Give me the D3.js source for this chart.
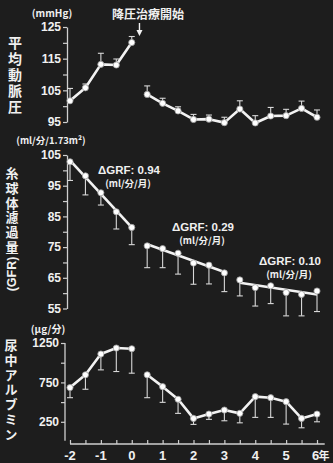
<!DOCTYPE html>
<html>
<head>
<meta charset="utf-8">
<script src="https://cdn.jsdelivr.net/npm/d3@7"></script>
<style>
  html, body { margin: 0; padding: 0; background: #1d1d1d; }
  svg { display: block; }
  text { fill: #f0f0f0; font-family: "Liberation Sans", Arial, "Noto Sans CJK JP", sans-serif; font-weight: bold; }
  .jp { font-family: "Noto Sans CJK JP", sans-serif; }
</style>
</head>
<body>
<svg id="chart" width="333" height="463"></svg>
<script>
// ---- data ----
const yearsPre = [-2, -1.5, -1, -0.5, 0];
const yearsPost = [0.5, 1, 1.5, 2, 2.5, 3, 3.5, 4, 4.5, 5, 5.5, 6];
const xTickLabels = [-2, -1, 0, 1, 2, 3, 4, 5, 6];

// mean arterial pressure (mmHg), error bar drawn upward
const mapPre = [101.7, 105.8, 113.2, 113.0, 120.1];
const mapPreErr = [3.9, 1.2, 3.5, 1.9, 1.9];
const mapPost = [103.7, 100.9, 98.5, 95.8, 95.9, 94.8, 99.1, 94.7, 96.9, 97.0, 99.3, 96.5];
const mapPostErr = [2.7, 1.6, 1.3, 1.6, 1.3, 1.7, 2.6, 2.3, 2.7, 2.0, 2.3, 2.3];
const mapTicks = [95, 105, 115, 125];

// GFR (ml/min/1.73m2), error bar drawn downward
const gfrPre = [102.8, 98.2, 92.7, 86.5, 81.4];
const gfrPreErr = [6.1, 6.2, 4.0, 5.6, 5.6];
const gfrPost = [75.4, 74.5, 73.0, 69.8, 69.1, 66.6, 64.3, 61.8, 62.4, 60.2, 59.6, 60.7];
const gfrPostErr = [7.1, 6.2, 6.8, 6.9, 6.1, 6.1, 5.2, 6.0, 5.8, 7.6, 7.0, 6.7];
const gfrTicks = [55, 65, 75, 85, 95, 105];
const gfrSlopes = ["0.94", "0.29", "0.10"];

// urinary albumin (ug/min), error bar drawn downward
const albPre = [684, 846, 1110, 1186, 1177];
const albPreErr = [128, 183, 201, 298, 310];
const albPost = [846, 696, 536, 293, 348, 399, 357, 569, 556, 505, 293, 348];
const albPostErr = [290, 199, 179, 76, 67, 136, 120, 263, 250, 284, 119, 98];
const albTicks = [250, 750, 1250];

const svg = d3.select("#chart");
svg.append("rect").attr("width", 333).attr("height", 463).attr("fill", "#1d1d1d");

const x = d3.scaleLinear().domain([-2, 6]).range([70, 317]);

const yMap = d3.scaleLinear().domain([95, 125]).range([122, 27]);
const yGfr = d3.scaleLinear().domain([55, 105]).range([308.5, 155]);
const yAlb = d3.scaleLinear().domain([0, 1250]).range([441.5, 343]);

const LINE = "#f2f2f2";
const AXIS = "#cfcfcf";

function styleAxis(sel) {
  sel.select(".domain").attr("stroke", AXIS).attr("stroke-width", 1.3);
  sel.selectAll(".tick line").attr("stroke", AXIS).attr("stroke-width", 1.2);
  sel.selectAll(".tick text").attr("fill", "#efefef")
    .attr("font-size", 12).attr("font-weight", "bold")
    .attr("font-family", "'Liberation Sans', Arial, sans-serif");
}

function drawYAxis(y, xPos, major, step, lo, hi) {
  const vals = d3.range(lo, hi + step / 2, step);
  const ax = d3.axisLeft(y).tickValues(vals).tickSize(4).tickSizeOuter(0).tickPadding(2)
    .tickFormat(v => major.includes(v) ? String(v) : "");
  svg.append("g").attr("transform", `translate(${xPos},0)`).call(ax).call(styleAxis);
}

drawYAxis(yMap, 67, mapTicks, 5, 95, 125);
drawYAxis(yGfr, 67, gfrTicks, 5, 55, 105);
// albumin axis runs a bit below the 250 tick
const albAx = svg.append("g").attr("transform", "translate(65,0)");
albAx.append("line").attr("x1", 0).attr("x2", 0).attr("y1", yAlb(1250)).attr("y2", yAlb(10))
  .attr("stroke", AXIS).attr("stroke-width", 1.3);
albAx.call(d3.axisLeft(yAlb).tickValues([250, 500, 750, 1000, 1250]).tickSize(4).tickSizeOuter(0).tickPadding(2)
  .tickFormat(v => albTicks.includes(v) ? String(v) : ""))
  .call(styleAxis);
albAx.select(".domain").remove();

// x axis (ticks every half year, pointing up)
const xg = svg.append("g").attr("transform", "translate(0,444)");
xg.append("line").attr("x1", x(-2)).attr("x2", x(6.25)).attr("stroke", AXIS).attr("stroke-width", 1.4);
xg.call(d3.axisTop(x).tickValues(d3.range(-2, 6.01, 0.5)).tickSize(4).tickFormat(""))
  .call(styleAxis);
xg.select(".domain").remove();
xg.selectAll("text.lab").data(xTickLabels).join("text")
  .attr("class", "lab")
  .attr("x", d => x(d) - (d === 6 ? 1.5 : 0)).attr("y", 16)
  .attr("text-anchor", "middle")
  .attr("font-size", 13)
  .text(d => d < 0 ? "-" + Math.abs(d) : d);
xg.append("text").attr("class", "jp").attr("x", 324).attr("y", 15.5).attr("font-size", 11).text("年");

// ---- series helpers ----
function errorBars(years, vals, errs, y, dir) {
  const g = svg.append("g");
  years.forEach((yr, i) => {
    const cx = x(yr);
    const y0 = y(vals[i]);
    const y1 = y(vals[i] + dir * errs[i]);
    g.append("line").attr("x1", cx).attr("x2", cx).attr("y1", y0).attr("y2", y1)
      .attr("stroke", "#d8d8d8").attr("stroke-width", 1.1);
    g.append("line").attr("x1", cx - 3).attr("x2", cx + 3).attr("y1", y1).attr("y2", y1)
      .attr("stroke", "#d8d8d8").attr("stroke-width", 1.1);
  });
}

function polyline(years, vals, y) {
  const line = d3.line().x((d, i) => x(years[i])).y(d => y(d));
  svg.append("path").datum(vals).attr("d", line)
    .attr("fill", "none").attr("stroke", LINE).attr("stroke-width", 2.6).attr("stroke-linejoin", "round");
}

function dots(years, vals, y) {
  svg.append("g").selectAll("circle").data(vals).join("circle")
    .attr("cx", (d, i) => x(years[i])).attr("cy", d => y(d)).attr("r", 3.1)
    .attr("fill", "#ffffff").attr("stroke", "#9a9a9a").attr("stroke-width", 0.8);
}

// least squares fit line across one segment
function fitLine(years, vals, y) {
  const mx = d3.mean(years), my = d3.mean(vals);
  const b = d3.sum(years, (t, i) => (t - mx) * (vals[i] - my)) / d3.sum(years, t => (t - mx) ** 2);
  const a = my - b * mx;
  const ends = [years[0], years[years.length - 1]];
  svg.append("line")
    .attr("x1", x(ends[0])).attr("y1", y(a + b * ends[0]))
    .attr("x2", x(ends[1])).attr("y2", y(a + b * ends[1]))
    .attr("stroke", LINE).attr("stroke-width", 2.6);
}

// ---- panel 1: MAP ----
errorBars(yearsPre, mapPre, mapPreErr, yMap, 1);
errorBars(yearsPost, mapPost, mapPostErr, yMap, 1);
polyline(yearsPre, mapPre, yMap);
polyline(yearsPost, mapPost, yMap);
dots(yearsPre, mapPre, yMap);
dots(yearsPost, mapPost, yMap);

// ---- panel 2: GFR with three regression segments ----
errorBars(yearsPre, gfrPre, gfrPreErr, yGfr, -1);
errorBars(yearsPost, gfrPost, gfrPostErr, yGfr, -1);
fitLine(yearsPre, gfrPre, yGfr);
fitLine(yearsPost.slice(0, 6), gfrPost.slice(0, 6), yGfr);
fitLine(yearsPost.slice(6), gfrPost.slice(6), yGfr);
dots(yearsPre, gfrPre, yGfr);
dots(yearsPost, gfrPost, yGfr);

// ---- panel 3: albumin ----
errorBars(yearsPre, albPre, albPreErr, yAlb, -1);
errorBars(yearsPost, albPost, albPostErr, yAlb, -1);
polyline(yearsPre, albPre, yAlb);
polyline(yearsPost, albPost, yAlb);
dots(yearsPre, albPre, yAlb);
dots(yearsPost, albPost, yAlb);

// ---- vertical axis titles (one text each, set vertically) ----
function vlabel(str, cx, top, step, size) {
  return svg.append("text").attr("class", "jp")
    .attr("x", cx).attr("y", top - size / 2)
    .style("writing-mode", "vertical-rl")
    .style("letter-spacing", (step - size) + "px")
    .attr("font-size", size).text(str);
}
vlabel("平均動脈圧", 15, 43, 15.8, 14);
vlabel("糸球体濾過量", 12, 173, 14.8, 13);
svg.append("text")
  .attr("transform", "translate(12,274) rotate(-90)")
  .attr("text-anchor", "middle").attr("dominant-baseline", "central")
  .attr("font-size", 12.5).text("(GFR)");
vlabel("尿中アルブミン", 11, 345, 14.8, 13);

function txt(s, xx, yy, size, cls) {
  return svg.append("text").attr("class", cls || "jp").attr("x", xx).attr("y", yy)
    .attr("text-anchor", "middle").attr("font-size", size).text(s);
}
txt("(mmHg)", 52, 17, 10);
txt("(ml/分/1.73m²)", 51, 144, 9.5);
txt("(μg/分)", 48, 333, 10);

// treatment start marker at a quarter year
const ax0 = x(0.25);
txt("降圧治療開始", 148, 18.5, 12);
svg.append("line").attr("x1", ax0).attr("x2", ax0).attr("y1", 23).attr("y2", 31)
  .attr("stroke", LINE).attr("stroke-width", 1.4);
svg.append("path").attr("d", `M${ax0 - 3},30 L${ax0 + 3},30 L${ax0},36 Z`).attr("fill", LINE);

// slope annotations
const slopePos = [[129, 170], [203, 227], [290, 261]];
gfrSlopes.forEach((s, i) => {
  const [cx, cy] = slopePos[i];
  txt("\u0394GRF: " + s, cx, cy + 3.5, 11.5, "lat");
  txt("(ml/分/月)", cx - 1, cy + 17, 9.5);
});
</script>
</body>
</html>
